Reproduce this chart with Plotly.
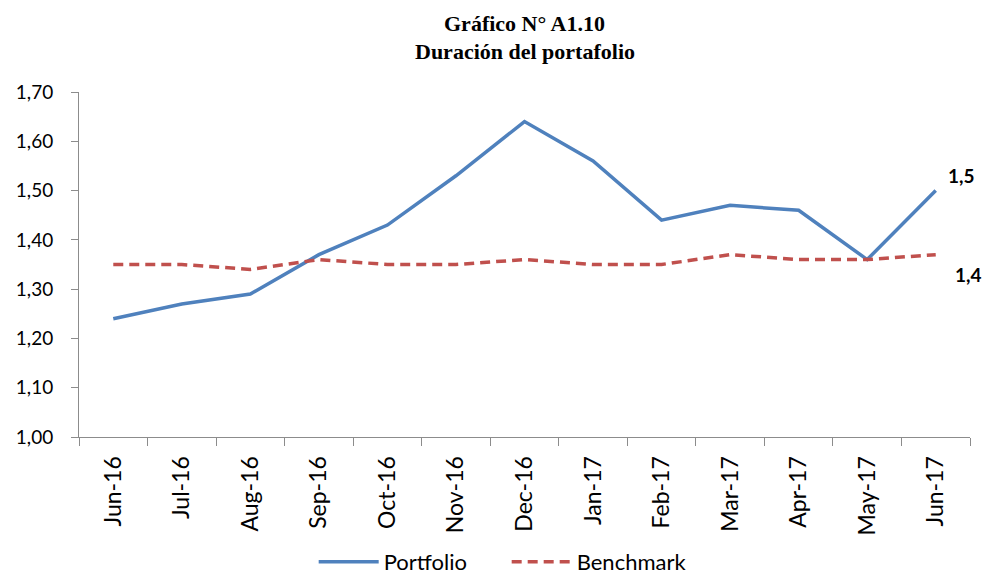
import plotly.graph_objects as go

months = ["Jun-16", "Jul-16", "Aug-16", "Sep-16", "Oct-16", "Nov-16", "Dec-16",
          "Jan-17", "Feb-17", "Mar-17", "Apr-17", "May-17", "Jun-17"]
portfolio = [1.24, 1.27, 1.29, 1.37, 1.43, 1.53, 1.64, 1.56, 1.44, 1.47, 1.46, 1.36, 1.50]
benchmark = [1.35, 1.35, 1.34, 1.36, 1.35, 1.35, 1.36, 1.35, 1.35, 1.37, 1.36, 1.36, 1.37]
y_ticks = [1.0, 1.1, 1.2, 1.3, 1.4, 1.5, 1.6, 1.7]
end_labels = ["1,5", "1,4"]

fig = go.Figure()
fig.add_trace(go.Scatter(x=months, y=portfolio, mode="lines", name="Portfolio",
                         line=dict(color="#4F81BD", width=3.5)))
fig.add_trace(go.Scatter(x=months, y=benchmark, mode="lines", name="Benchmark",
                         line=dict(color="#C0504D", width=3.5, dash="10px,6px")))

fig.add_annotation(x=months[-1], y=portfolio[-1], text="<b>" + end_labels[0] + "</b>",
                   showarrow=False, xshift=26, yshift=15,
                   font=dict(size=19, color="black", family="Lato"))
fig.add_annotation(x=months[-1], y=benchmark[-1], text="<b>" + end_labels[1] + "</b>",
                   showarrow=False, xshift=33, yshift=-20,
                   font=dict(size=19, color="black", family="Lato"))

title_font = dict(family="Liberation Serif", size=22, color="black")
fig.add_annotation(xref="paper", yref="paper", x=0.5, y=1.20, xanchor="center", yanchor="middle",
                   text="<b>Gráfico N° A1.10</b>", showarrow=False, font=title_font)
fig.add_annotation(xref="paper", yref="paper", x=0.5, y=1.118, xanchor="center", yanchor="middle",
                   text="<b>Duración del portafolio</b>", showarrow=False, font=title_font)

fig.update_layout(
    width=986, height=583,
    margin=dict(l=79, r=16, t=92, b=146),
    paper_bgcolor="white", plot_bgcolor="white",
    separators=",.",
    font=dict(family="Lato", size=19, color="black"),
    showlegend=True,
    legend=dict(orientation="h", x=0.48, xanchor="center", yref="container", y=0.0,
                yanchor="bottom", font=dict(size=22), entrywidth=118, entrywidthmode="pixels",
                itemwidth=60, tracegroupgap=0, bgcolor="rgba(0,0,0,0)"),
    xaxis=dict(type="category", range=[-0.5, 12.5], tickangle=-90, automargin=False,
               showline=True, linecolor="#8C8C8C", linewidth=1,
               ticks="outside", tickson="boundaries", ticklen=8, tickcolor="#8C8C8C",
               showgrid=False, tickfont=dict(size=23), ticklabelstandoff=9),
    yaxis=dict(range=[1.0, 1.7], tickvals=y_ticks, tickformat=".2f", automargin=False,
               showline=True, linecolor="#8C8C8C", linewidth=1,
               ticks="outside", ticklen=7, tickcolor="#8C8C8C",
               showgrid=False, zeroline=False, tickfont=dict(size=19), ticklabelstandoff=14),
)

fig.write_html("out.html", config={"displayModeBar": False},
               post_script="document.body.style.margin='0px';")
